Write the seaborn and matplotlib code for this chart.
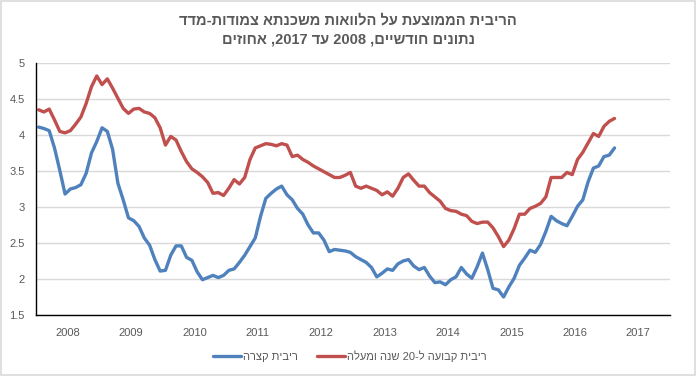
import matplotlib
matplotlib.use("Agg")
import matplotlib.pyplot as plt
import matplotlib.ticker as mticker
import numpy as np
import pandas as pd
import seaborn as sns
import re

# monthly values, Jan 2008 onward (percent)
short_rate = [
    4.11, 4.09, 4.06, 3.82, 3.51, 3.18, 3.25, 3.27, 3.31, 3.47, 3.75, 3.91,
    4.10, 4.05, 3.80, 3.33, 3.10, 2.85, 2.81, 2.73, 2.57, 2.47, 2.27, 2.11,
    2.12, 2.33, 2.46, 2.46, 2.30, 2.26, 2.10, 1.99, 2.02, 2.05, 2.02, 2.05,
    2.12, 2.14, 2.23, 2.33, 2.45, 2.57, 2.87, 3.12, 3.19, 3.25, 3.29, 3.17,
    3.10, 2.98, 2.90, 2.75, 2.64, 2.64, 2.54, 2.38, 2.41, 2.40, 2.39, 2.37,
    2.31, 2.27, 2.23, 2.16, 2.03, 2.08, 2.14, 2.12, 2.21, 2.25, 2.27, 2.18,
    2.13, 2.16, 2.04, 1.95, 1.96, 1.92, 1.99, 2.03, 2.16, 2.07, 2.01, 2.17,
    2.36, 2.13, 1.87, 1.85, 1.75, 1.89, 2.01, 2.19, 2.29, 2.40, 2.37, 2.48,
    2.66, 2.87, 2.81, 2.77, 2.74, 2.87, 3.01, 3.10, 3.35, 3.54, 3.57, 3.70,
    3.72, 3.82,
]
fixed_rate = [
    4.35, 4.32, 4.36, 4.21, 4.05, 4.03, 4.06, 4.15, 4.25, 4.44, 4.67, 4.82,
    4.70, 4.78, 4.65, 4.51, 4.37, 4.30, 4.36, 4.37, 4.32, 4.30, 4.24, 4.10,
    3.86, 3.98, 3.93, 3.77, 3.63, 3.53, 3.48, 3.42, 3.34, 3.19, 3.20, 3.16,
    3.26, 3.38, 3.32, 3.41, 3.66, 3.82, 3.85, 3.88, 3.87, 3.85, 3.88, 3.86,
    3.70, 3.72, 3.66, 3.62, 3.57, 3.53, 3.49, 3.45, 3.41, 3.41, 3.44, 3.48,
    3.29, 3.26, 3.29, 3.26, 3.23, 3.17, 3.21, 3.15, 3.26, 3.41, 3.46, 3.37,
    3.29, 3.29, 3.20, 3.14, 3.08, 2.98, 2.95, 2.94, 2.90, 2.88, 2.80, 2.77,
    2.79, 2.79, 2.71, 2.59, 2.45, 2.54, 2.70, 2.90, 2.90, 2.98, 3.01, 3.05,
    3.14, 3.41, 3.41, 3.41, 3.48, 3.45, 3.66, 3.76, 3.89, 4.02, 3.98, 4.12,
    4.19, 4.23,
]
years = list(range(2008, 2018))
series_names = ["ריבית קצרה", "ריבית קבועה ל-20 שנה ומעלה"]
title_lines = ["הריבית הממוצעת על הלוואות משכנתא צמודות-מדד",
               "נתונים חודשיים, 2008 עד 2017, אחוזים"]


def rtl(s):
    # matplotlib has no bidi: reverse to visual order, keep digit runs LTR
    r = s[::-1]
    return re.sub(r"\d+", lambda m: m.group(0)[::-1], r)


GRAY = "#595959"
sns.set_style("white")
plt.rcParams["font.family"] = ["Liberation Sans", "DejaVu Sans"]

n = len(short_rate)
df = pd.DataFrame({
    "month": list(range(n)) * 2,
    "value": short_rate + fixed_rate,
    "series": [rtl(series_names[0])] * n + [rtl(series_names[1])] * n,
})

fig = plt.figure(figsize=(6.96, 3.76), dpi=100)
ax = fig.add_axes([36 / 696, 61 / 376, 634 / 696, 252 / 376])

palette = {rtl(series_names[0]): "#4f81bd", rtl(series_names[1]): "#c0504d"}
sns.lineplot(data=df, x="month", y="value", hue="series", palette=palette,
             linewidth=2.4, ax=ax, legend=True)

ax.set_xlim(-0.5, 119.5)
ax.set_ylim(1.5, 5)
ax.set_yticks(np.arange(1.5, 5.01, 0.5))
ax.yaxis.set_major_formatter(mticker.FuncFormatter(lambda v, p: f"{v:g}"))
ax.grid(axis="y", color="#d9d9d9", linewidth=1)
ax.set_axisbelow(True)

ax.set_xticks([12 * k + 5.5 for k in range(len(years))])
ax.set_xticklabels([str(y) for y in years])
ax.set_xticks(np.arange(-0.5, 120, 1), minor=True)
ax.tick_params(axis="x", which="major", length=0, pad=9, labelsize=8, labelcolor=GRAY)
ax.tick_params(axis="x", which="minor", length=4, width=0.8, color="black", direction="out")
ax.tick_params(axis="y", length=0, pad=8, labelsize=8, labelcolor=GRAY)
ax.set_xlabel("")
ax.set_ylabel("")

for side in ["top", "right"]:
    ax.spines[side].set_visible(False)
for side in ["left", "bottom"]:
    ax.spines[side].set_color("black")
    ax.spines[side].set_linewidth(1)

ax.legend(loc="center", bbox_to_anchor=(350 / 696, 20 / 376), bbox_transform=fig.transFigure,
          ncol=2, frameon=False, fontsize=8, handlelength=2.5, handletextpad=0.2,
          columnspacing=1.7, labelcolor=GRAY)

fig.text(0.5, 1 - 20 / 376, rtl(title_lines[0]), ha="center", va="center",
         fontsize=10.5, fontweight="bold", color=GRAY)
fig.text(0.5, 1 - 40 / 376, rtl(title_lines[1]), ha="center", va="center",
         fontsize=10.5, fontweight="bold", color=GRAY)

fig.patches.append(plt.Rectangle((0.001, 0.002), 0.997, 0.995, transform=fig.transFigure,
                                 fill=False, edgecolor="#d9d9d9", linewidth=1.2))

fig.savefig("out.png", dpi=100)
